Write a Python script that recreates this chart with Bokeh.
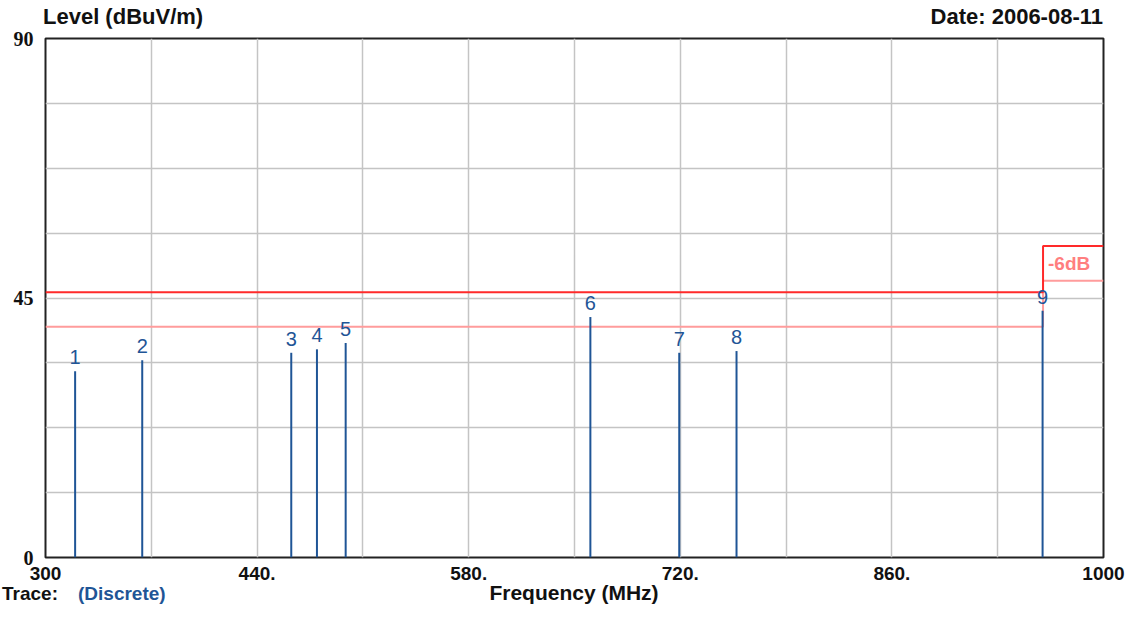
from bokeh.plotting import figure
from bokeh.models import Range1d, FixedTicker, Label, ColumnDataSource, Div
from bokeh.layouts import column
from bokeh.embed import file_html
from bokeh.resources import INLINE
from bokeh.core.properties import value

# ---- data ----
marker_ids = ["1", "2", "3", "4", "5", "6", "7", "8", "9"]
marker_freq = [319.6, 364.0, 462.6, 479.6, 498.6, 660.5, 719.3, 757.2, 959.7]
marker_level = [32.3, 34.2, 35.5, 36.1, 37.2, 41.7, 35.5, 35.8, 42.8]

limit_freq = [300, 960, 960, 1000]
limit_level = [46, 46, 54, 54]
margin_level = [40, 40, 48, 48]

x_ticks = [300, 440, 580, 720, 860, 1000]
x_tick_labels = ["300", "440.", "580.", "720.", "860.", "1000"]
y_ticks = [0, 45, 90]
y_tick_labels = ["0", "45", "90"]
x_grid = [370, 440, 510, 580, 650, 720, 790, 860, 930]
y_grid = [11.25, 22.5, 33.75, 45, 56.25, 67.5, 78.75]

title_left = "Level (dBuV/m)"
title_right = "Date: 2006-08-11"
x_title = "Frequency (MHz)"
trace_label = "Trace:"
trace_value = "(Discrete)"

BLUE = "#1f5596"
RED = "#ff2a2a"
PINK = "#ff9c9c"
INK = "#111111"

W = 1125
HEAD_H = 28
FOOT_H = 20
FIG_H = 603 - HEAD_H - FOOT_H
BORDER_L, BORDER_R = 45, 22

FONT = "font-family:'Liberation Sans',Arial,sans-serif;font-weight:bold;"

header = Div(
    text=(f'<div style="position:relative;width:{W}px;height:{HEAD_H}px;{FONT}'
          f'font-size:22px;line-height:22px;color:{INK};">'
          f'<span style="position:absolute;left:43px;top:6px;">{title_left}</span>'
          f'<span style="position:absolute;right:{BORDER_R}px;top:6px;">{title_right}</span>'
          f'</div>'),
    width=W, height=HEAD_H, margin=0)

frame_mid = BORDER_L + (W - BORDER_L - BORDER_R) / 2
footer = Div(
    text=(f'<div style="position:relative;width:{W}px;height:{FOOT_H}px;{FONT}">'
          f'<span style="position:absolute;left:2px;top:1px;font-size:19px;line-height:19px;'
          f'color:{INK};">{trace_label}</span>'
          f'<span style="position:absolute;left:78px;top:1px;font-size:19px;line-height:19px;'
          f'color:{BLUE};">{trace_value}</span>'
          f'<span style="position:absolute;left:{frame_mid - 150:.0f}px;width:300px;'
          f'text-align:center;top:0px;font-size:21px;line-height:20px;color:{INK};">'
          f'{x_title}</span>'
          f'</div>'),
    width=W, height=FOOT_H, margin=0)

p = figure(width=W, height=FIG_H, output_backend="svg", toolbar_location=None,
           x_range=Range1d(300, 1000), y_range=Range1d(0, 90),
           min_border_left=BORDER_L, min_border_right=BORDER_R,
           min_border_top=10, min_border_bottom=26)
p.background_fill_color = "white"
p.border_fill_color = "white"
p.outline_line_color = "#222222"
p.outline_line_width = 2

p.xgrid.ticker = FixedTicker(ticks=x_grid)
p.ygrid.ticker = FixedTicker(ticks=y_grid)
p.xgrid.grid_line_color = "#c4c4c4"
p.ygrid.grid_line_color = "#c4c4c4"
p.xgrid.grid_line_width = 1.5
p.ygrid.grid_line_width = 1.5

xa = p.xaxis[0]
xa.ticker = FixedTicker(ticks=x_ticks)
xa.major_label_overrides = {t: l for t, l in zip(x_ticks, x_tick_labels)}
xa.axis_line_color = None
xa.major_tick_line_color = None
xa.minor_tick_line_color = None
xa.major_label_standoff = 3
xa.major_label_text_font = "Liberation Sans"
xa.major_label_text_font_style = "bold"
xa.major_label_text_font_size = "19px"
xa.major_label_text_color = INK

ya = p.yaxis[0]
ya.ticker = FixedTicker(ticks=y_ticks)
ya.major_label_overrides = {t: l for t, l in zip(y_ticks, y_tick_labels)}
ya.axis_line_color = None
ya.major_tick_line_color = None
ya.minor_tick_line_color = None
ya.major_label_standoff = 6
ya.major_label_text_font = "Liberation Serif"
ya.major_label_text_font_style = "bold"
ya.major_label_text_font_size = "20px"
ya.major_label_text_color = INK

# limit lines
p.line(limit_freq, margin_level, line_color=PINK, line_width=2)
p.line(limit_freq, limit_level, line_color=RED, line_width=2)

# markers
src = ColumnDataSource(dict(x=marker_freq, y=marker_level, t=marker_ids,
                            y0=[0] * len(marker_freq)))
p.segment(x0="x", y0="y0", x1="x", y1="y", source=src, line_color=BLUE, line_width=2)
p.text(x="x", y="y", text="t", source=src, text_align="center", text_baseline="bottom",
       y_offset=-7, text_color=BLUE, text_font=value("Liberation Sans"),
       text_font_size="20px")

p.add_layout(Label(x=960, y=51, text="-6dB", x_offset=5, text_baseline="middle",
                   text_color="#ff7f7f", text_font="Liberation Sans",
                   text_font_style="bold", text_font_size="19px"))

layout = column(header, p, footer, spacing=0)
open("out.html", "w").write(file_html(layout, INLINE))
